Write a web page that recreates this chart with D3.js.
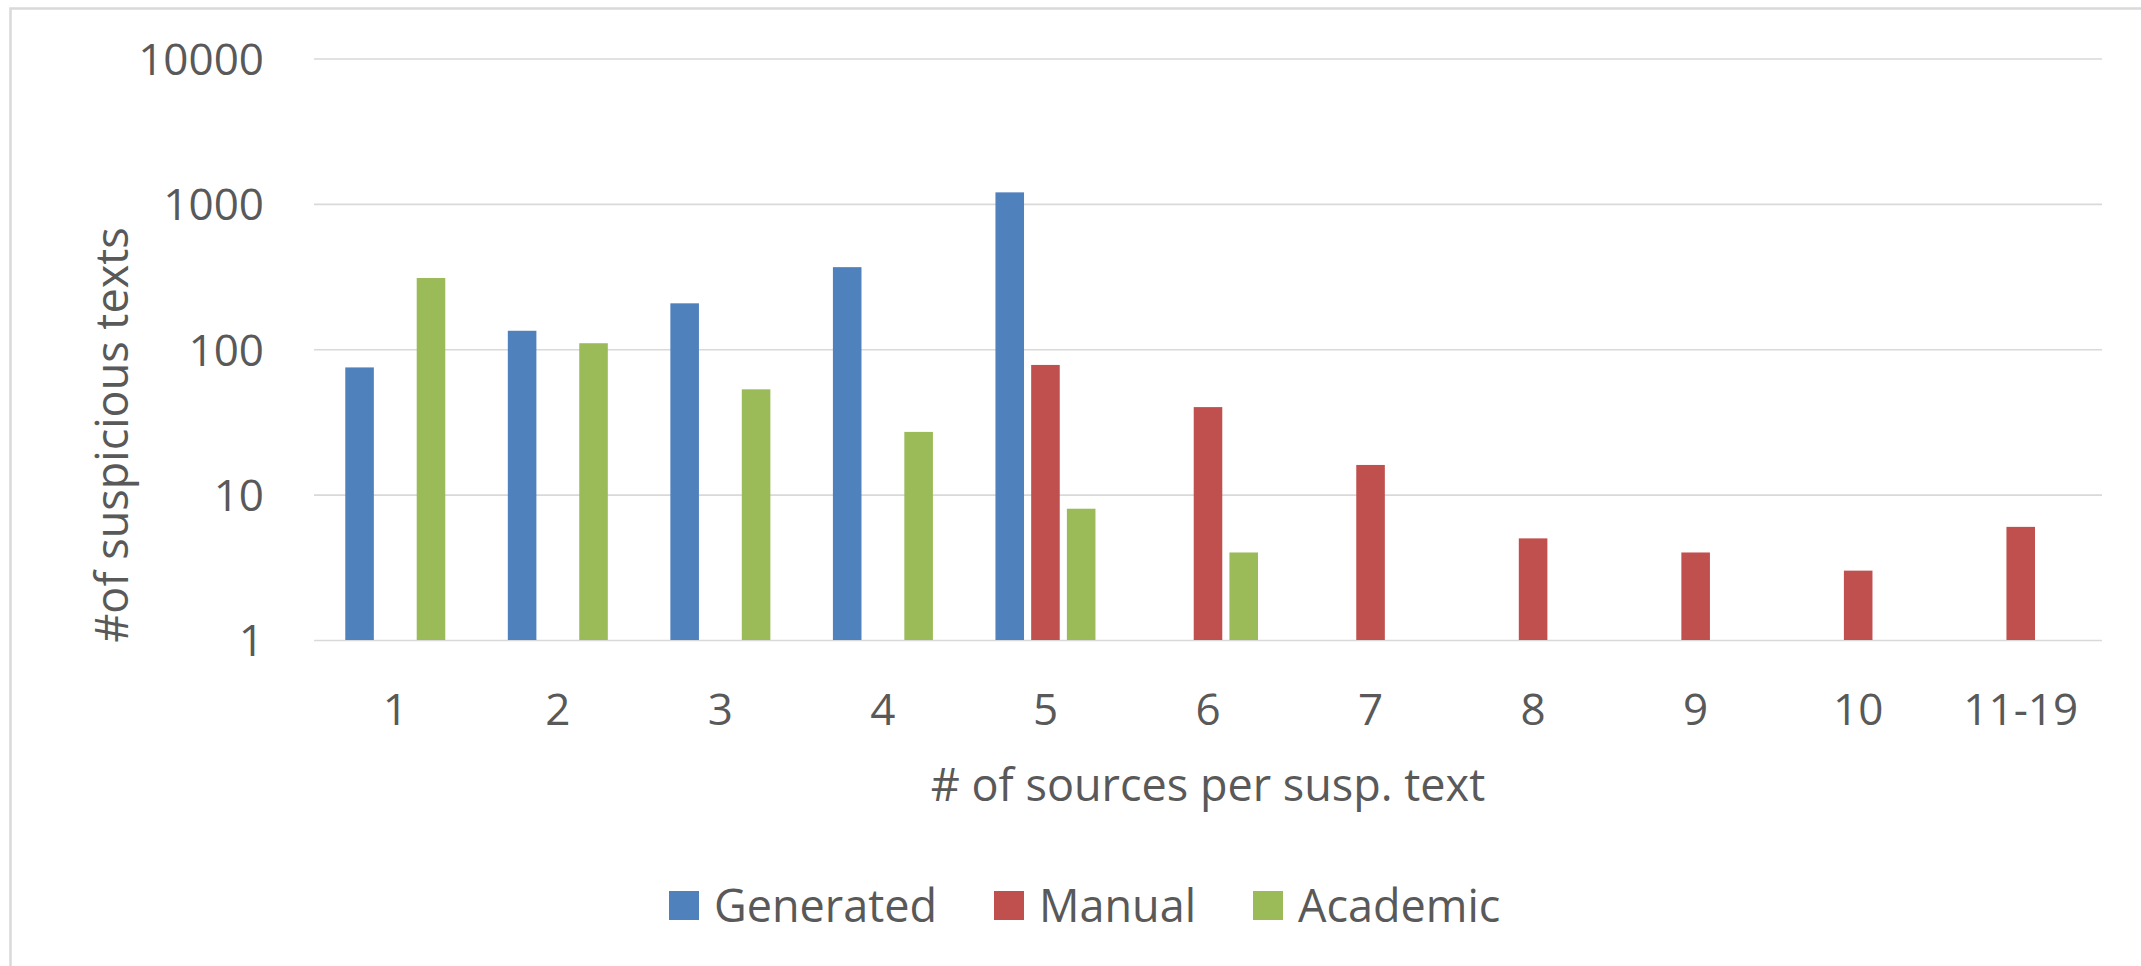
<!DOCTYPE html>
<html>
<head>
<meta charset="utf-8">
<script src="https://cdn.jsdelivr.net/npm/d3@7"></script>
<style>
  html, body { margin: 0; padding: 0; background: #ffffff; }
  svg { display: block; }
  text { font-family: "Open Sans", "DejaVu Sans", sans-serif; fill: #595959; }
</style>
</head>
<body>
<svg id="chart" width="2141" height="966"></svg>
<script>
// Number of source documents per suspicious text, by corpus type
const categories = ["1", "2", "3", "4", "5", "6", "7", "8", "9", "10", "11-19"];
const seriesNames = ["Generated", "Manual", "Academic"];
const generated = [75, 134, 207, 367, 1200, null, null, null, null, null, null];
const manual    = [null, null, null, null, 78, 40, 16, 5, 4, 3, 6];
const academic  = [309, 110, 53, 27, 8, 4, null, null, null, null, null];
const yTicks = [1, 10, 100, 1000, 10000];
const seriesColors = ["#4f81bd", "#c0504d", "#9bbb59"];
const yTitle = "#of suspicious texts";
const xTitle = "# of sources per susp. text";

const seriesValues = [generated, manual, academic];

const svg = d3.select("#chart");
const W = 2141, H = 966;
const plot = { left: 314, right: 2102, top: 58.5, bottom: 640 };

// chart-area frame
svg.append("rect")
  .attr("x", 10.5).attr("y", 8.5)
  .attr("width", W + 20).attr("height", H + 20)
  .attr("fill", "#ffffff")
  .attr("stroke", "#d9d9d9")
  .attr("stroke-width", 2.5);

const x0 = d3.scaleBand()
  .domain(categories)
  .range([plot.left, plot.right])
  .paddingInner(0).paddingOuter(0);

const x1 = d3.scaleBand()
  .domain(seriesNames)
  .range([-50, 50])
  .paddingInner(0.2).paddingOuter(0);

const y = d3.scaleLog()
  .domain([1, 10000])
  .range([plot.bottom, plot.top]);

const color = d3.scaleOrdinal().domain(seriesNames).range(seriesColors);

// horizontal gridlines
const grid = svg.append("g")
  .attr("transform", `translate(${plot.left},0)`)
  .call(d3.axisLeft(y).tickValues(yTicks).tickSize(-(plot.right - plot.left)).tickFormat(""));
grid.select(".domain").remove();
grid.selectAll(".tick line").attr("stroke", "#d9d9d9").attr("stroke-width", 1.6);

// y-axis labels
const yAxis = svg.append("g")
  .attr("transform", `translate(${plot.left - 50},0)`)
  .call(d3.axisLeft(y).tickValues(yTicks).tickSize(0).tickPadding(0).tickFormat(d3.format("d")));
yAxis.select(".domain").remove();
yAxis.selectAll(".tick text")
  .attr("font-size", 44)
  .attr("font-family", "'Open Sans', sans-serif")
  .attr("fill", "#595959")
  .attr("dy", "0.36em");

// bars
const barData = [];
seriesNames.forEach((s, si) => {
  categories.forEach((c, ci) => {
    const v = seriesValues[si][ci];
    if (v != null) barData.push({ series: s, category: c, value: v });
  });
});

svg.append("g").selectAll("rect")
  .data(barData)
  .join("rect")
  .attr("x", d => x0(d.category) + x0.bandwidth() / 2 + x1(d.series))
  .attr("width", x1.bandwidth())
  .attr("y", d => y(d.value))
  .attr("height", d => y(1) - y(d.value))
  .attr("fill", d => color(d.series));

// x-axis labels
const xAxis = svg.append("g")
  .attr("transform", `translate(0,${plot.bottom})`)
  .call(d3.axisBottom(x0).tickSize(0).tickPadding(0));
xAxis.select(".domain").remove();
xAxis.selectAll(".tick text")
  .attr("font-size", 44)
  .attr("font-family", "'Open Sans', sans-serif")
  .attr("fill", "#595959")
  .attr("dy", 0)
  .attr("y", 85);

// axis titles
svg.append("text")
  .attr("x", (plot.left + plot.right) / 2)
  .attr("y", 801)
  .attr("text-anchor", "middle")
  .attr("font-size", 45)
  .text(xTitle);

svg.append("text")
  .attr("transform", `translate(128,435) rotate(-90)`)
  .attr("text-anchor", "middle")
  .attr("font-size", 45)
  .text(yTitle);

// legend
const legendX = [669, 994, 1253];
const legend = svg.append("g");
seriesNames.forEach((s, i) => {
  const g = legend.append("g").attr("transform", `translate(${legendX[i]},891)`);
  g.append("rect").attr("width", 30).attr("height", 29).attr("fill", color(s));
  g.append("text")
    .attr("x", 45).attr("y", 30.5)
    .attr("font-size", 45)
    .text(s);
});
</script>
</body>
</html>
